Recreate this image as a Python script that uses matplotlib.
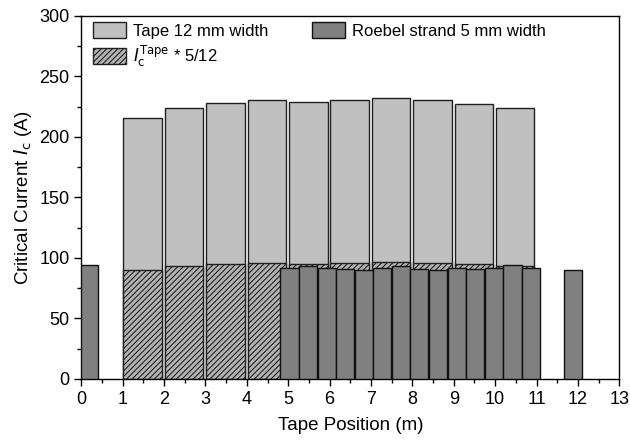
import matplotlib.pyplot as plt
from matplotlib.ticker import MultipleLocator

plt.rcParams['font.family'] = ['Liberation Sans', 'DejaVu Sans']
plt.rcParams['hatch.linewidth'] = 0.8

# Tape 12 mm: one value per metre, starting at 1 m
tape_pos = [1, 2, 3, 4, 5, 6, 7, 8, 9, 10]
tape_ic = [215.8, 223.5, 228.2, 230.1, 228.4, 230.3, 232.0, 230.1, 226.8, 223.5]

# Roebel strand 5 mm: left edge of each piece and its Ic
roebel_pos = [0.0, 4.81, 5.26, 5.71, 6.16, 6.61, 7.05, 7.50, 7.95, 8.40,
              8.85, 9.30, 9.75, 10.20, 10.65, 11.67]
roebel_ic = [94, 92, 93, 92, 91, 90, 92, 93, 91, 90,
             92, 91, 92, 94, 92, 90]

scaled_ic = [v * 5 / 12 for v in tape_ic]

fig = plt.figure(figsize=(6.3, 4.41), dpi=100)
ax = fig.add_axes([0.129, 0.141, 0.854, 0.823])

ax.bar([p + 0.02 for p in tape_pos], tape_ic, width=0.93, align='edge',
       color='#c0c0c0', edgecolor='#202020', linewidth=1.0,
       label='Tape 12 mm width', zorder=1)
ax.bar([p + 0.02 for p in tape_pos], scaled_ic, width=0.93, align='edge',
       color='#b4b4b4', edgecolor='#202020', hatch='//////', linewidth=1.0,
       label=r'$I_\mathrm{c}^\mathrm{Tape}$ * 5/12', zorder=2)
widths = [0.40] + [0.44] * 14 + [0.42]
ax.bar(roebel_pos, roebel_ic, width=widths, align='edge',
       color='#808080', edgecolor='#101010', linewidth=1.0,
       label='Roebel strand 5 mm width', zorder=3)

ax.set_xlim(0, 13)
ax.set_ylim(0, 300)
ax.xaxis.set_major_locator(MultipleLocator(1))
ax.xaxis.set_minor_locator(MultipleLocator(0.5))
ax.yaxis.set_major_locator(MultipleLocator(50))
ax.yaxis.set_minor_locator(MultipleLocator(25))
ax.tick_params(which='major', direction='out', length=5, width=1, labelsize=13)
ax.tick_params(which='minor', direction='out', length=3, width=1)
for s in ax.spines.values():
    s.set_linewidth(1.0)

ax.set_xlabel('Tape Position (m)', fontsize=13.5, labelpad=7)
ax.set_ylabel(r'Critical Current $I_\mathrm{c}$ (A)', fontsize=13.5, labelpad=4)

ax.legend(ncol=2, frameon=False, fontsize=12, loc='upper left',
          bbox_to_anchor=(0.0, 1.015), handlelength=2.0, handleheight=1.1,
          handletextpad=0.4, columnspacing=2.6, labelspacing=0.3,
          borderaxespad=0.3)

fig.savefig('out.png', dpi=100)
